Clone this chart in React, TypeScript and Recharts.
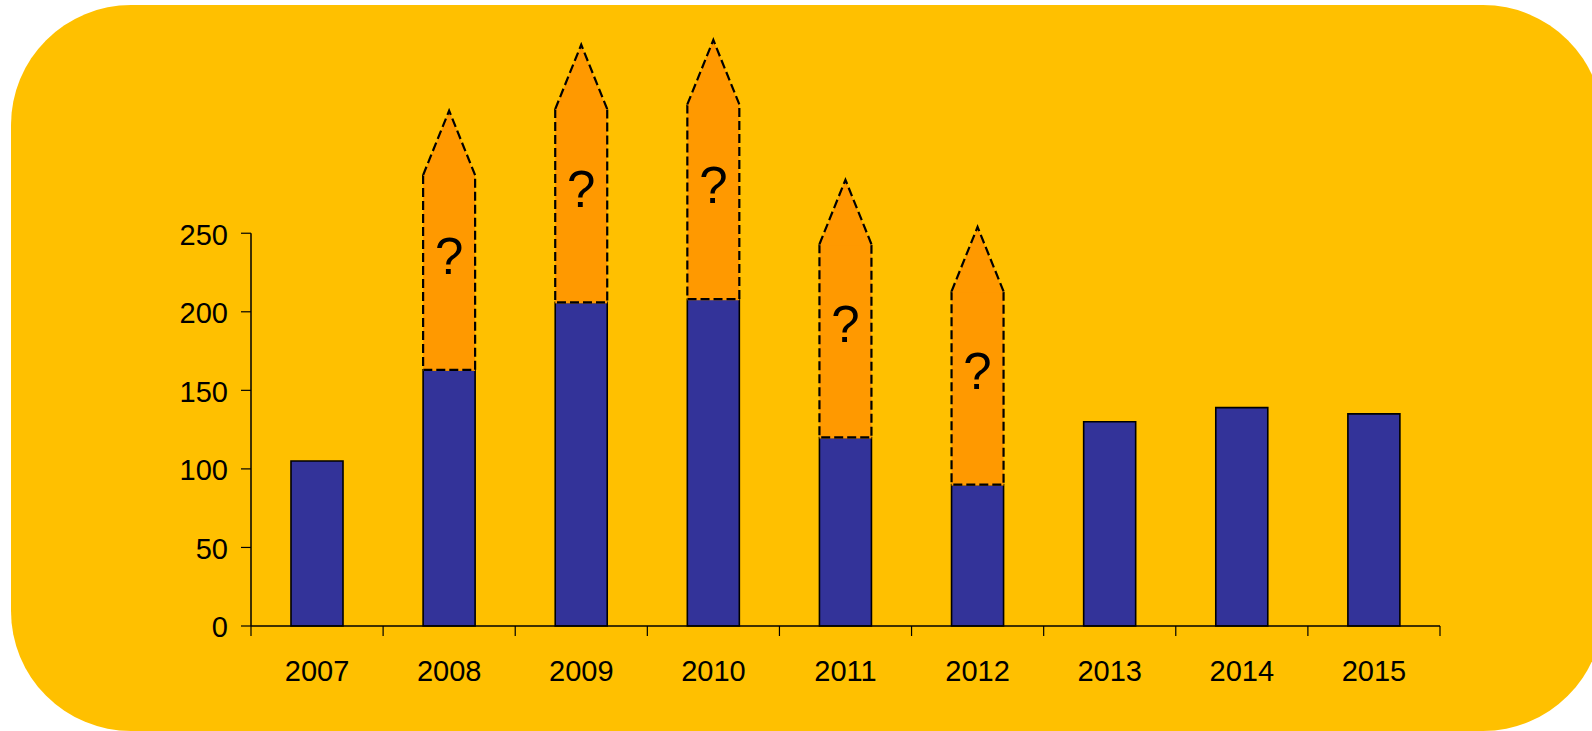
import { BarChart, Bar, XAxis, YAxis, ReferenceLine, LabelList } from "recharts";

// values
const years = ["2007", "2008", "2009", "2010", "2011", "2012", "2013", "2014", "2015"];
const reported = [105, 163, 206, 208, 120, 90, 130, 139, 135];
// top of the dashed orange "estimate" box (null = no estimate that year)
const estimateTop = [null, 287, 329, 332, 243, 213, null, null, null];
// tip of the arrow head above the box
const estimateTip = [null, 328, 370, 373, 284, 254, null, null, null];
const yTicks = [0, 50, 100, 150, 200, 250];
const unknownMark = "?";

const BG = "#FFC000";
const BLUE = "#333399";
const ORANGE = "#FF9900";
const FONT = '"Liberation Sans", Arial, Helvetica, sans-serif';

const TICK_LEN = 10;
const LABEL_GAP = 24;

const data = years.map((year, i) => {
  const top = estimateTop[i];
  const tip = estimateTip[i];
  return {
    year,
    reported: reported[i],
    estimate: top != null ? top - reported[i] : 0,
    head: top != null && tip != null ? tip - top : 0,
    note: top != null ? unknownMark : "",
  };
});

function EstimateBox(props: any) {
  const { x, y, width, height } = props;
  if (!height || height <= 0) return <g />;
  return (
    <g>
      <rect x={x} y={y} width={width} height={height + 1} fill={ORANGE} />
      <path
        d={`M${x},${y} L${x},${y + height} L${x + width},${y + height} L${x + width},${y}`}
        fill="none"
        stroke="#000"
        strokeWidth={2.2}
        strokeDasharray="9 4"
      />
    </g>
  );
}

function ArrowHead(props: any) {
  const { x, y, width, height } = props;
  if (!height || height <= 0) return <g />;
  const mid = x + width / 2;
  return (
    <g>
      <polygon
        points={`${x},${y + height + 1} ${mid},${y} ${x + width},${y + height + 1}`}
        fill={ORANGE}
      />
      <path
        d={`M${x},${y + height} L${mid},${y} L${x + width},${y + height}`}
        fill="none"
        stroke="#000"
        strokeWidth={2.2}
        strokeDasharray="9 4"
      />
    </g>
  );
}

function QuestionLabel(props: any) {
  const { x, y, width, height, value } = props;
  if (!value) return null;
  return (
    <text
      x={x + width / 2}
      y={y + height / 2 + 1}
      textAnchor="middle"
      fontSize={51}
      fontFamily={FONT}
      fill="#000"
    >
      {value}
    </text>
  );
}

// Excel-style category tick: marks between categories, label centred
function YearTick(props: any) {
  const { x, y, payload } = props;
  const idx = props.index ?? payload.index;
  const half = payload.offset || 66;
  const y0 = y - TICK_LEN - LABEL_GAP;
  const y1 = y0 + TICK_LEN;
  return (
    <g>
      <line x1={x - half} y1={y0} x2={x - half} y2={y1} stroke="#000" strokeWidth={1.2} />
      {idx === years.length - 1 && (
        <line x1={x + half} y1={y0} x2={x + half} y2={y1} stroke="#000" strokeWidth={1.2} />
      )}
      <text x={x} y={y} dy="0.71em" textAnchor="middle" fontSize={29} fontFamily={FONT} fill="#000">
        {payload.value}
      </text>
    </g>
  );
}

export default function App() {
  return (
    <div
      style={{
        position: "absolute",
        left: 0,
        top: 0,
        width: 1592,
        height: 731,
        overflow: "hidden",
        background: "#fff",
      }}
    >
      <div
        style={{
          position: "absolute",
          left: 11,
          top: 5,
          width: 1592,
          height: 726,
          borderRadius: 120,
          background: BG,
        }}
      />
      <div style={{ position: "absolute", left: 0, top: 0 }}>
        <BarChart
          width={1592}
          height={731}
          data={data}
          margin={{ top: 29, right: 152, bottom: 45, left: 171 }}
          barSize={52}
        >
          <XAxis
            dataKey="year"
            interval={0}
            height={60}
            tickLine={false}
            tickSize={TICK_LEN}
            tickMargin={LABEL_GAP}
            axisLine={{ stroke: "#000", strokeWidth: 1.5 }}
            tick={<YearTick />}
          />
          <YAxis
            type="number"
            domain={[0, 380]}
            ticks={yTicks}
            interval={0}
            width={80}
            axisLine={false}
            tickSize={10}
            tickMargin={13}
            tickLine={{ stroke: "#000", strokeWidth: 1.2 }}
            tick={{ fontSize: 29, fill: "#000", fontFamily: FONT, dy: 1 }}
          />
          <ReferenceLine
            segment={[
              { x: years[0], y: 0 },
              { x: years[0], y: yTicks[yTicks.length - 1] },
            ]}
            position="start"
            stroke="#000"
            strokeWidth={1.5}
          />
          <Bar
            dataKey="reported"
            stackId="a"
            fill={BLUE}
            stroke="#000"
            strokeWidth={1.6}
            isAnimationActive={false}
          />
          <Bar dataKey="estimate" stackId="a" shape={<EstimateBox />} isAnimationActive={false}>
            <LabelList dataKey="note" content={<QuestionLabel />} />
          </Bar>
          <Bar dataKey="head" stackId="a" shape={<ArrowHead />} isAnimationActive={false} />
        </BarChart>
      </div>
    </div>
  );
}
